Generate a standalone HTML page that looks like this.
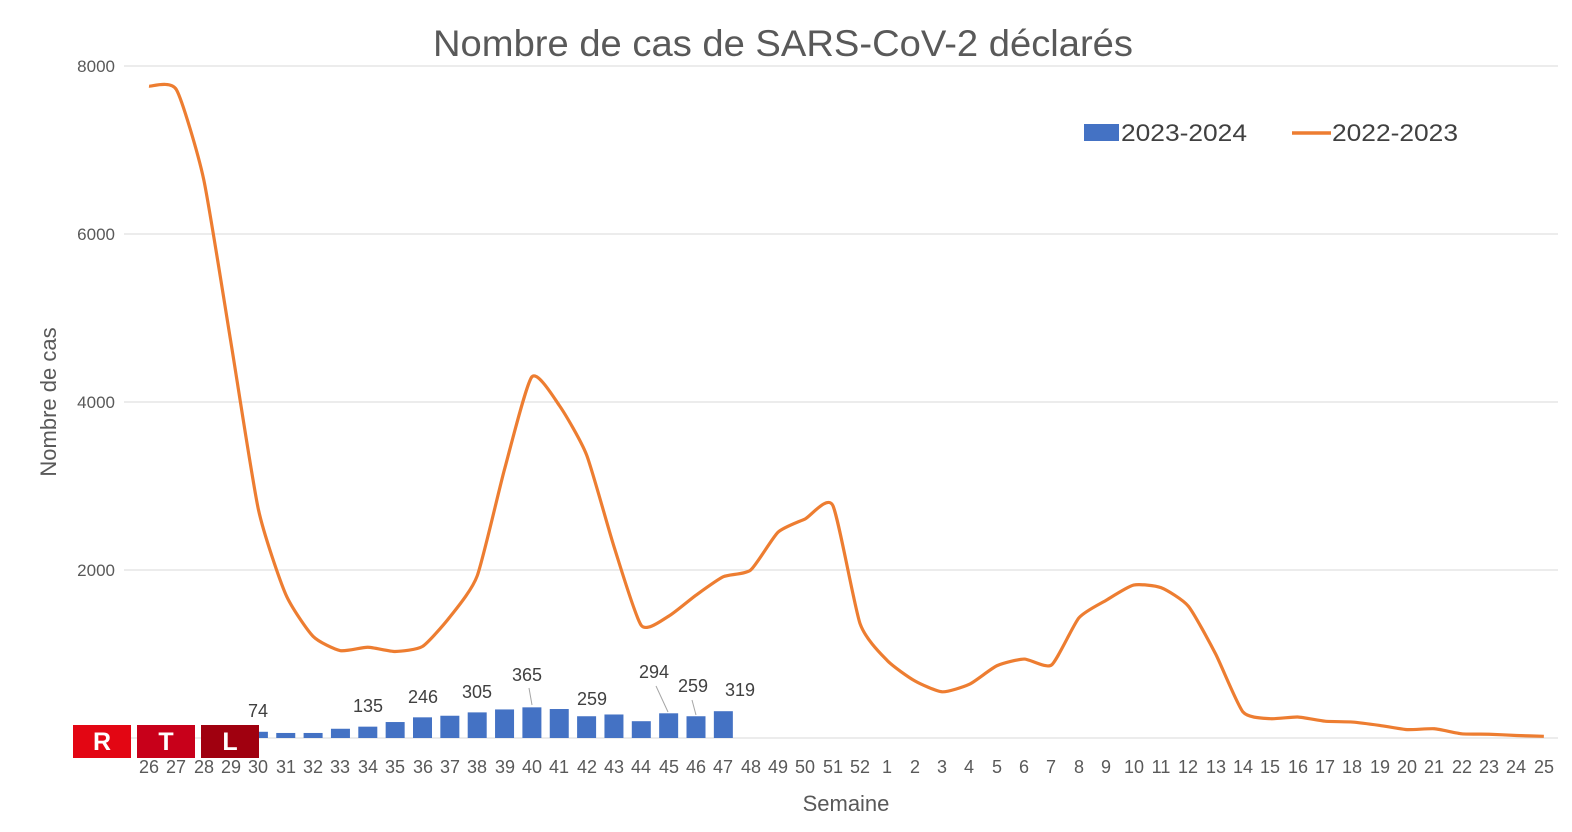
<!DOCTYPE html>
<html><head><meta charset="utf-8"><style>
body{margin:0;background:#fff;}
svg{display:block;font-family:"Liberation Sans",sans-serif;}
</style></head><body>
<svg id="s" width="1572" height="832" viewBox="0 0 1572 832" xmlns="http://www.w3.org/2000/svg">
<rect width="1572" height="832" fill="#fff"/>
<text x="783" y="56" font-size="37" fill="#595959" text-anchor="middle" textLength="700" lengthAdjust="spacingAndGlyphs">Nombre de cas de SARS-CoV-2 déclarés</text>
<g stroke="#d9d9d9" stroke-width="1">
<line x1="124" y1="66" x2="1558" y2="66"/><line x1="124" y1="234" x2="1558" y2="234"/>
<line x1="124" y1="402" x2="1558" y2="402"/><line x1="124" y1="570" x2="1558" y2="570"/>
<line x1="124" y1="738" x2="1558" y2="738"/>
</g>
<g font-size="17" fill="#595959" text-anchor="end">
<text x="115" y="72">8000</text><text x="115" y="240">6000</text><text x="115" y="408">4000</text><text x="115" y="576">2000</text>
</g>
<text transform="translate(56,402) rotate(-90)" font-size="22" fill="#595959" text-anchor="middle">Nombre de cas</text>
<text x="846" y="811" font-size="22" fill="#595959" text-anchor="middle">Semaine</text>
<g id="bars" fill="#4472c4"></g>
<path id="line" fill="none" stroke="#ed7d31" stroke-width="3.2" stroke-linejoin="round"/>
<g id="xl" font-size="18" fill="#595959" text-anchor="middle">
<text x="149" y="773">26</text><text x="176" y="773">27</text><text x="204" y="773">28</text><text x="231" y="773">29</text><text x="258" y="773">30</text><text x="286" y="773">31</text><text x="313" y="773">32</text><text x="340" y="773">33</text><text x="368" y="773">34</text><text x="395" y="773">35</text><text x="423" y="773">36</text><text x="450" y="773">37</text><text x="477" y="773">38</text><text x="505" y="773">39</text><text x="532" y="773">40</text><text x="559" y="773">41</text><text x="587" y="773">42</text><text x="614" y="773">43</text><text x="641" y="773">44</text><text x="669" y="773">45</text><text x="696" y="773">46</text><text x="723" y="773">47</text><text x="751" y="773">48</text><text x="778" y="773">49</text><text x="805" y="773">50</text><text x="833" y="773">51</text><text x="860" y="773">52</text><text x="887" y="773">1</text><text x="915" y="773">2</text><text x="942" y="773">3</text><text x="969" y="773">4</text><text x="997" y="773">5</text><text x="1024" y="773">6</text><text x="1051" y="773">7</text><text x="1079" y="773">8</text><text x="1106" y="773">9</text><text x="1134" y="773">10</text><text x="1161" y="773">11</text><text x="1188" y="773">12</text><text x="1216" y="773">13</text><text x="1243" y="773">14</text><text x="1270" y="773">15</text><text x="1298" y="773">16</text><text x="1325" y="773">17</text><text x="1352" y="773">18</text><text x="1380" y="773">19</text><text x="1407" y="773">20</text><text x="1434" y="773">21</text><text x="1462" y="773">22</text><text x="1489" y="773">23</text><text x="1516" y="773">24</text><text x="1544" y="773">25</text>
</g>
<g font-size="18" fill="#404040" text-anchor="middle">
<text x="258" y="717">74</text><text x="368" y="712">135</text><text x="423" y="703">246</text><text x="477" y="698">305</text><text x="527" y="681">365</text><text x="592" y="705">259</text><text x="654" y="678">294</text><text x="693" y="692">259</text><text x="740" y="696">319</text>
</g>
<g stroke="#a6a6a6" stroke-width="1"><line x1="529" y1="688" x2="532" y2="705"/><line x1="656" y1="686" x2="668" y2="712"/><line x1="692" y1="700" x2="696" y2="715"/></g>
<rect x="1084" y="124" width="35" height="17" fill="#4472c4"/>
<text x="1121" y="141" font-size="24" fill="#404040" textLength="126" lengthAdjust="spacingAndGlyphs">2023-2024</text>
<line x1="1292" y1="133" x2="1331" y2="133" stroke="#ed7d31" stroke-width="3.5"/>
<text x="1332" y="141" font-size="24" fill="#404040" textLength="126" lengthAdjust="spacingAndGlyphs">2022-2023</text>
<rect x="73" y="725" width="58" height="33" fill="#e30613"/>
<rect x="137" y="725" width="58" height="33" fill="#c8001a"/>
<rect x="201" y="725" width="58" height="33" fill="#a0000f"/>
<g font-size="25" font-weight="bold" fill="#fff" text-anchor="middle"><text x="102" y="750">R</text><text x="166" y="750">T</text><text x="230" y="750">L</text></g>
</svg>
<script>
var X=function(i){return 149+i*27.35};var Y=function(v){return 738-v*0.084};
var L=[7760,7720,6650,4700,2720,1710,1210,1040,1080,1030,1090,1440,1930,3200,4300,3960,3370,2280,1340,1450,1700,1920,2000,2450,2610,2770,1360,920,680,550,640,860,940,870,1430,1640,1820,1790,1570,1000,310,230,250,200,190,150,100,110,50,45,30,20];
var p=L.map(function(v,i){return [X(i),Y(v)]});
var d="M"+p[0][0]+","+p[0][1];
for(var i=0;i<p.length-1;i++){var a=p[Math.max(i-1,0)],b=p[i],c=p[i+1],e=p[Math.min(i+2,p.length-1)],t=0.1;
d+=" C"+(b[0]+(c[0]-a[0])*t)+","+(b[1]+(c[1]-a[1])*t)+" "+(c[0]-(e[0]-b[0])*t)+","+(c[1]-(e[1]-b[1])*t)+" "+c[0]+","+c[1];}
document.getElementById("line").setAttribute("d",d);
var B={4:74,5:60,6:60,7:110,8:135,9:190,10:246,11:265,12:305,13:340,14:365,15:345,16:259,17:280,18:200,19:294,20:259,21:319};
var g=document.getElementById("bars"),h="";
for(var k in B){var v=B[k];h+='<rect x="'+(X(+k)-9.5)+'" y="'+Y(v)+'" width="19" height="'+(v*0.084)+'"/>';}
g.innerHTML=h;
</script>
</body></html>
